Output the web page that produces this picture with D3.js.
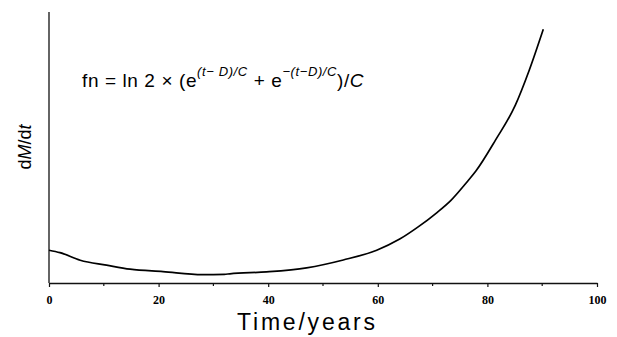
<!DOCTYPE html>
<html>
<head>
<meta charset="utf-8">
<script src="https://cdn.jsdelivr.net/npm/d3@7"></script>
<style>
  body { margin: 0; background: #fff; }
  svg { display: block; }
</style>
</head>
<body>
<div id="wrapper"></div>
<script>
// curve (arbitrary dM/dt units)
const years = [0, 2, 5.7, 10.5, 14.8, 20.8, 28, 32, 33, 39.7, 47, 53.7, 59.8, 64, 67.3, 70.8, 73.3, 76.2, 77.9, 81.5, 85.1, 87.6, 90.2];
const dmdt  = [12.1, 11.2, 8.4, 6.6, 5.1, 4.2, 3.1, 3.2, 3.4, 4.1, 5.6, 8.5, 12.1, 16.2, 20.6, 26.0, 30.4, 37.1, 41.3, 52.8, 65.6, 78.3, 93.6];
const xTicks = [0, 20, 40, 60, 80, 100];
const xMinorTicks = [10, 30, 50, 70, 90];

const data = years.map((t, i) => ({ t: t, v: dmdt[i] }));

var dimension = {
    width: 617,
    height: 337,
    margin: { top: 12, left: 49, bottom: 54, right: 20 }
};
dimension.boundedWidth = dimension.width - dimension.margin.left - dimension.margin.right;
dimension.boundedHeight = dimension.height - dimension.margin.top - dimension.margin.bottom;

const svg = d3.select("#wrapper").append("svg")
    .attr("width", dimension.width)
    .attr("height", dimension.height);

const bounded = svg.append("g")
    .attr("transform", `translate(${dimension.margin.left},${dimension.margin.top})`);

const xScaler = d3.scaleLinear().domain([0, 100]).range([0, 548]);
const yScaler = d3.scaleLinear().domain([0, 100]).range([dimension.boundedHeight, 0]);

// y axis: plain line, no ticks
bounded.append("line")
    .attr("x1", 0).attr("x2", 0)
    .attr("y1", 0).attr("y2", dimension.boundedHeight)
    .attr("stroke", "#111").attr("stroke-width", 1.3);

// x axis
const xAxis = bounded.append("g")
    .attr("transform", `translate(0,${dimension.boundedHeight})`)
    .call(d3.axisBottom(xScaler).tickValues(xTicks).tickSize(4).tickPadding(8).tickSizeOuter(0));
xAxis.select(".domain").attr("stroke", "#111").attr("stroke-width", 1.6);
xAxis.selectAll(".tick line").attr("stroke", "#111").attr("stroke-width", 1.2);
xAxis.selectAll(".tick text")
    .attr("fill", "#000")
    .style("font-family", "'Liberation Serif', 'DejaVu Serif', serif")
    .style("font-weight", "bold")
    .style("font-size", "12px");

bounded.append("g")
    .attr("transform", `translate(0,${dimension.boundedHeight})`)
    .selectAll("line")
    .data(xMinorTicks)
    .join("line")
    .attr("x1", d => xScaler(d)).attr("x2", d => xScaler(d))
    .attr("y1", 0).attr("y2", 3)
    .attr("stroke", "#111").attr("stroke-width", 1.2);

// curve
const lineGenerator = d3.line()
    .x(d => xScaler(d.t))
    .y(d => yScaler(d.v))
    .curve(d3.curveMonotoneX);

bounded.append("path")
    .attr("d", lineGenerator(data))
    .attr("fill", "none")
    .attr("stroke", "#000")
    .attr("stroke-width", 1.7);

// axis titles
svg.append("text")
    .attr("x", 306).attr("y", 330)
    .attr("text-anchor", "middle")
    .attr("textLength", 138)
    .style("font-family", "'Liberation Sans', Arial, sans-serif")
    .style("font-size", "23px")
    .text("Time/years");

svg.append("text")
    .attr("transform", "translate(31,147) rotate(-90)")
    .attr("text-anchor", "middle")
    .style("font-family", "'Liberation Sans', Arial, sans-serif")
    .style("font-size", "18px")
    .html("d<tspan font-style='italic'>M</tspan>/d<tspan font-style='italic'>t</tspan>");

// formula
const formula = svg.append("text")
    .attr("x", 82).attr("y", 87)
    .style("font-family", "'Liberation Sans', Arial, sans-serif")
    .style("font-size", "19px")
    .style("letter-spacing", "0.6px");
formula.append("tspan").text("fn = ln 2 \u00d7 (e");
formula.append("tspan").attr("dy", -11).style("font-size", "13px").style("font-style", "italic").text("(t\u2212 D)/C");
formula.append("tspan").attr("dy", 11).text("  + e");
formula.append("tspan").attr("dy", -11).style("font-size", "13px").style("font-style", "italic").text("\u2212(t\u2212D)/C");
formula.append("tspan").attr("dy", 11).text(")/");
formula.append("tspan").style("font-style", "italic").text("C");
</script>
</body>
</html>
